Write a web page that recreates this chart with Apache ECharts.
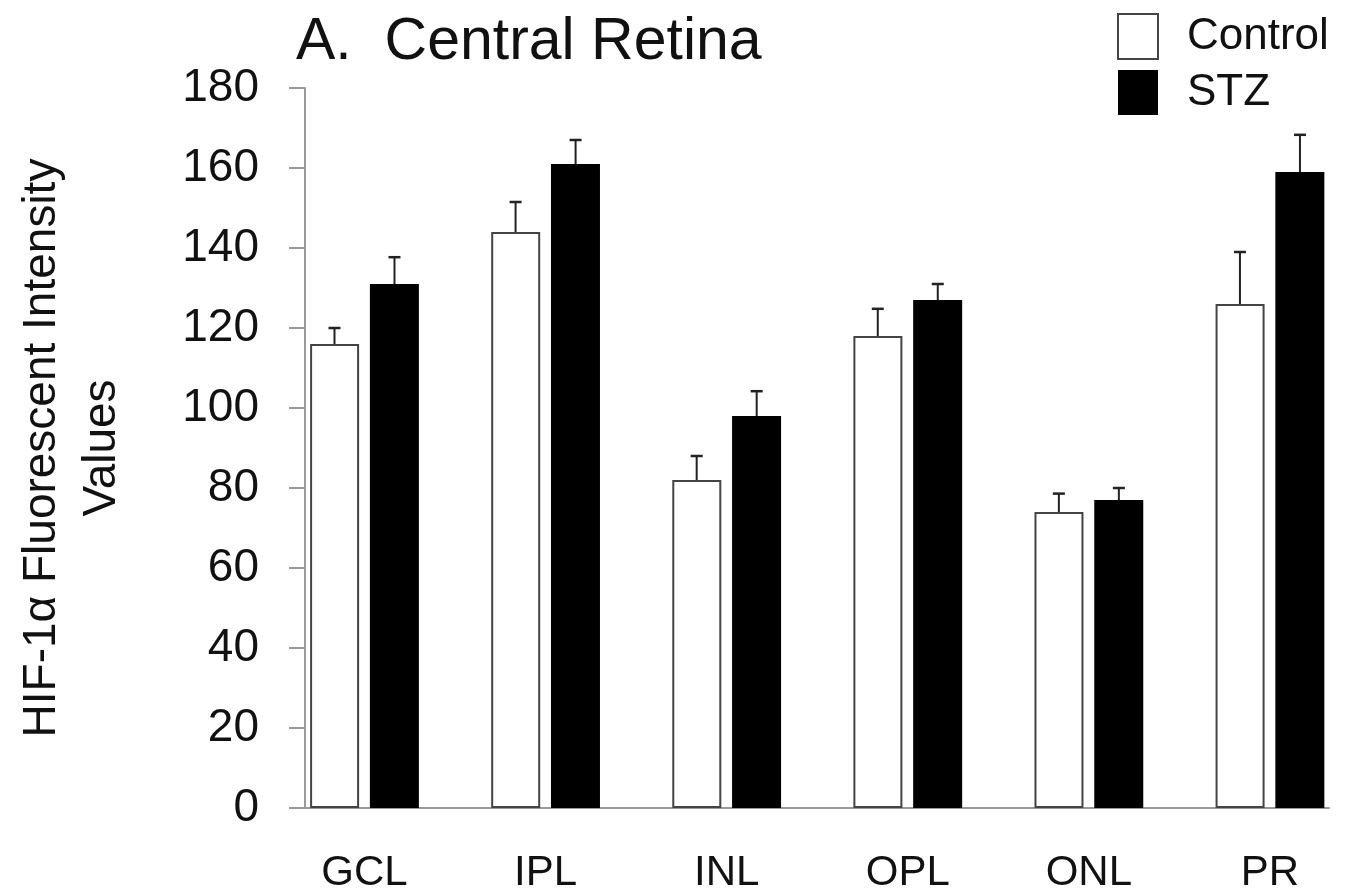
<!DOCTYPE html>
<html>
<head>
<meta charset="utf-8">
<script src="https://cdn.jsdelivr.net/npm/echarts@6/dist/echarts.min.js"></script>
<style>
  html, body { margin: 0; padding: 0; background: #fff; }
  #chart { width: 1348px; height: 893px; }
</style>
</head>
<body>
<div id="chart"></div>
<script>
var categories = ["GCL", "IPL", "INL", "OPL", "ONL", "PR"];
var controlValues = [116, 144, 82, 118, 74, 126];
var controlErrors = [4, 7.5, 6, 6.8, 4.6, 13];
var stzValues = [131, 161, 98, 127, 77, 159];
var stzErrors = [6.7, 6, 6.2, 4, 3, 9.3];
var yTicks = [0, 20, 40, 60, 80, 100, 120, 140, 160, 180];

var font = "Liberation Sans, Arial, sans-serif";
var barW = 49;
var half = 30; // distance from group centre to each bar centre

function pairs(vals, errs) {
  return vals.map(function (v, i) { return [i, v, errs[i]]; });
}

function errorBar(offset) {
  return function (params, api) {
    var x = api.value(0), v = api.value(1), e = api.value(2);
    var top = api.coord([x, v]);
    var hi = api.coord([x, v + e]);
    var cx = top[0] + offset;
    return {
      type: "group",
      children: [
        { type: "line", shape: { x1: cx, y1: top[1], x2: cx, y2: hi[1] },
          style: { stroke: "#222", lineWidth: 2 } },
        { type: "line", shape: { x1: cx - 6, y1: hi[1], x2: cx + 6, y2: hi[1] },
          style: { stroke: "#222", lineWidth: 2.5 } }
      ]
    };
  };
}

var myChart = echarts.init(document.getElementById("chart"));
myChart.setOption({
  animation: false,
  backgroundColor: "#fff",
  title: {
    text: "A.  Central Retina",
    left: 291,
    top: 8,
    textStyle: { fontFamily: font, fontSize: 59, fontWeight: "normal", color: "#111" }
  },
  legend: {
    orient: "vertical",
    left: 1112,
    top: 8,
    icon: "rect",
    itemWidth: 40,
    itemHeight: 45,
    itemGap: 10,
    data: ["Control", "STZ"],
    textStyle: { fontFamily: font, fontSize: 44, color: "#111", padding: [0, 0, 0, 24] }
  },
  grid: { left: 305, right: 19, top: 88, bottom: 85, outerBoundsMode: "none" },
  xAxis: {
    type: "value",
    min: -0.3285,
    max: 5.326,
    splitLine: { show: false },
    axisLine: { show: true, onZero: false, lineStyle: { color: "#999", width: 2 } },
    axisTick: { show: false },
    axisLabel: {
      customValues: [0, 1, 2, 3, 4, 5],
      formatter: function (v) { return categories[Math.round(v)]; },
      margin: 44,
      fontFamily: font,
      fontSize: 42,
      color: "#111"
    }
  },
  yAxis: {
    type: "value",
    min: 0,
    max: 180,
    interval: 20,
    name: "HIF-1α Fluorescent Intensity\nValues",
    nameLocation: "middle",
    nameGap: 173,
    nameTextStyle: { fontFamily: font, fontSize: 46, color: "#111", lineHeight: 60 },
    splitLine: { show: false },
    axisLine: { show: true, onZero: false, lineStyle: { color: "#999", width: 2 } },
    axisTick: { show: true, length: 16, lineStyle: { color: "#999", width: 2 } },
    axisLabel: {
      margin: 46,
      fontFamily: font,
      fontSize: 46,
      color: "#111",
      formatter: function (v) { return yTicks.indexOf(v) >= 0 ? String(v) : ""; }
    }
  },
  series: [
    {
      name: "Control",
      type: "bar",
      barWidth: barW,
      barGap: "22%",
      data: pairs(controlValues, controlErrors),
      itemStyle: { color: "#fff", borderColor: "#444", borderWidth: 2 }
    },
    {
      name: "STZ",
      type: "bar",
      barWidth: barW,
      barGap: "22%",
      data: pairs(stzValues, stzErrors),
      itemStyle: { color: "#000" }
    },
    {
      type: "custom",
      renderItem: errorBar(-half),
      data: pairs(controlValues, controlErrors),
      encode: { x: 0, y: 1 },
      z: 5
    },
    {
      type: "custom",
      renderItem: errorBar(half),
      data: pairs(stzValues, stzErrors),
      encode: { x: 0, y: 1 },
      z: 5
    }
  ]
});
window.onresize = function () { myChart.resize(); };
</script>
</body>
</html>
